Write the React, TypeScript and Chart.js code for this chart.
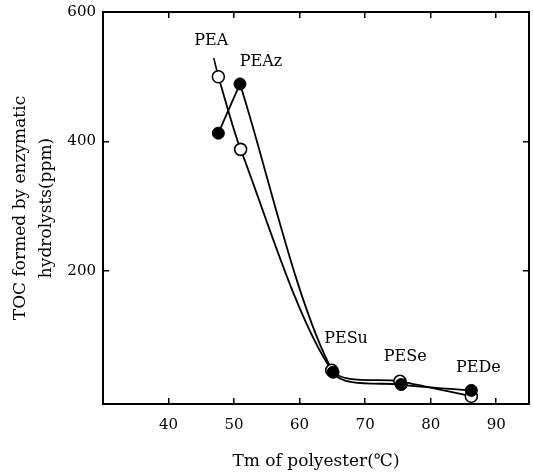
import React, { useEffect, useRef } from "react";
import { Chart, registerables } from "chart.js";

Chart.register(...registerables);

// Data
const peaTm = [47.6, 51.0, 64.9, 75.3, 86.2];
const peaToc = [500, 388, 47, 30, 7];
const peazTm = [47.6, 50.9, 65.1, 75.5, 86.2];
const peazToc = [413, 489, 44, 25, 16];
const peaLeaderTm = [47.6, 46.9];
const peaLeaderToc = [500, 529];

const xTicks = [40, 50, 60, 70, 80, 90];
const yTicks = [200, 400, 600];
const xMin = 30;
const xMax = 95;
const yMin = -5;
const yMax = 600;

const polymerNames = ["PEA", "PEAz", "PESu", "PESe", "PEDe"];

const FONT = "'DejaVu Serif', 'Liberation Serif', serif";

const toPts = (xs: number[], ys: number[]) => xs.map((x, i) => ({ x, y: ys[i] }));

const noPad = (s: any) => {
  s.paddingLeft = 0;
  s.paddingRight = 0;
  s.paddingTop = 0;
  s.paddingBottom = 0;
};

export default function App() {
  const ref = useRef<HTMLCanvasElement | null>(null);

  useEffect(() => {
    document.body.style.margin = "0";
    const canvas = ref.current;
    if (!canvas) return;

    // label anchors: [datasetIndex, pointIndex, dx, dy]
    const anchors: [number, number, number, number][] = [
      [1, 0, -7, -36],
      [0, 1, 21, -22],
      [0, 2, 13, -33],
      [0, 3, 4, -28],
      [0, 4, 7, -23],
    ];

    const namePlugin = {
      id: "names",
      afterDatasetsDraw(chart: any) {
        const ctx = chart.ctx;
        ctx.save();
        ctx.font = `16px ${FONT}`;
        ctx.fillStyle = "#000";
        ctx.textAlign = "center";
        ctx.textBaseline = "middle";
        polymerNames.forEach((name, k) => {
          const [ds, pi, dx, dy] = anchors[k];
          const el = chart.getDatasetMeta(ds).data[pi];
          if (el) ctx.fillText(name, el.x + dx, el.y + dy);
        });
        ctx.restore();
      },
    };

    const tickFont = { family: FONT, size: 15 };
    const peazPts = toPts(peazTm, peazToc);

    const lineStyle = {
      showLine: true,
      borderColor: "#000",
      borderWidth: 1.8,
      pointRadius: 0,
    };

    const chart = new Chart(canvas, {
      type: "scatter",
      data: {
        datasets: [
          {
            label: "PEAz",
            data: peazPts,
            showLine: false,
            backgroundColor: "#000",
            pointBackgroundColor: "#000",
            pointBorderColor: "#000",
            pointRadius: 6,
            pointBorderWidth: 1,
          },
          {
            label: "PEA",
            data: toPts(peaTm, peaToc),
            ...lineStyle,
            backgroundColor: "#fff",
            pointBackgroundColor: "#fff",
            pointBorderColor: "#000",
            pointRadius: 6,
            pointBorderWidth: 1.6,
            tension: 0.28,
          },
          {
            label: "PEAz rise",
            data: peazPts.slice(0, 2),
            ...lineStyle,
            tension: 0,
          },
          {
            label: "PEAz fall",
            data: peazPts.slice(1),
            ...lineStyle,
            tension: 0.28,
          },
          {
            label: "leader",
            data: toPts(peaLeaderTm, peaLeaderToc),
            ...lineStyle,
            borderWidth: 1.6,
          },
        ],
      },
      options: {
        responsive: false,
        animation: false,
        plugins: { legend: { display: false }, tooltip: { enabled: false } },
        layout: { padding: 0, autoPadding: false },
        scales: {
          x: {
            type: "linear",
            position: "bottom",
            min: xMin,
            max: xMax,
            afterBuildTicks: (s: any) => {
              s.ticks = xTicks.map((v) => ({ value: v }));
            },
            afterFit: (s: any) => {
              s.height = 70;
              noPad(s);
            },
            grid: { drawOnChartArea: false, tickLength: -6, color: "#000", lineWidth: 1.5 },
            border: { color: "#000", width: 2 },
            ticks: { color: "#000", font: tickFont, padding: 18, maxRotation: 0 },
            title: {
              display: true,
              text: "Tm of polyester(℃)",
              color: "#000",
              font: { family: FONT, size: 17 },
              padding: { top: 0, bottom: 2 },
            },
          },
          x2: {
            type: "linear",
            position: "top",
            min: xMin,
            max: xMax,
            afterBuildTicks: (s: any) => {
              s.ticks = xTicks.map((v) => ({ value: v }));
            },
            afterFit: (s: any) => {
              s.height = 12;
              noPad(s);
            },
            grid: { drawOnChartArea: false, tickLength: -6, color: "#000", lineWidth: 1.5 },
            border: { color: "#000", width: 2 },
            ticks: { display: false },
          },
          y: {
            type: "linear",
            position: "left",
            min: yMin,
            max: yMax,
            afterBuildTicks: (s: any) => {
              s.ticks = yTicks.map((v) => ({ value: v }));
            },
            afterFit: (s: any) => {
              s.width = 103;
              noPad(s);
            },
            grid: { drawOnChartArea: false, tickLength: -6, color: "#000", lineWidth: 1.5 },
            border: { color: "#000", width: 2 },
            ticks: { color: "#000", font: tickFont, padding: 13 },
            title: {
              display: true,
              text: ["TOC formed by enzymatic", "hydrolysts(ppm)"],
              color: "#000",
              font: { family: FONT, size: 17, lineHeight: 1.5 },
              padding: { top: 8, bottom: 0 },
            },
          },
          y2: {
            type: "linear",
            position: "right",
            min: yMin,
            max: yMax,
            afterBuildTicks: (s: any) => {
              s.ticks = yTicks.map((v) => ({ value: v }));
            },
            afterFit: (s: any) => {
              s.width = 4;
              noPad(s);
            },
            grid: { drawOnChartArea: false, tickLength: -6, color: "#000", lineWidth: 1.5 },
            border: { color: "#000", width: 2 },
            ticks: { display: false },
          },
        },
      },
      plugins: [namePlugin],
    } as any);

    return () => chart.destroy();
  }, []);

  return <canvas ref={ref} width={533} height={474} style={{ display: "block" }} />;
}
